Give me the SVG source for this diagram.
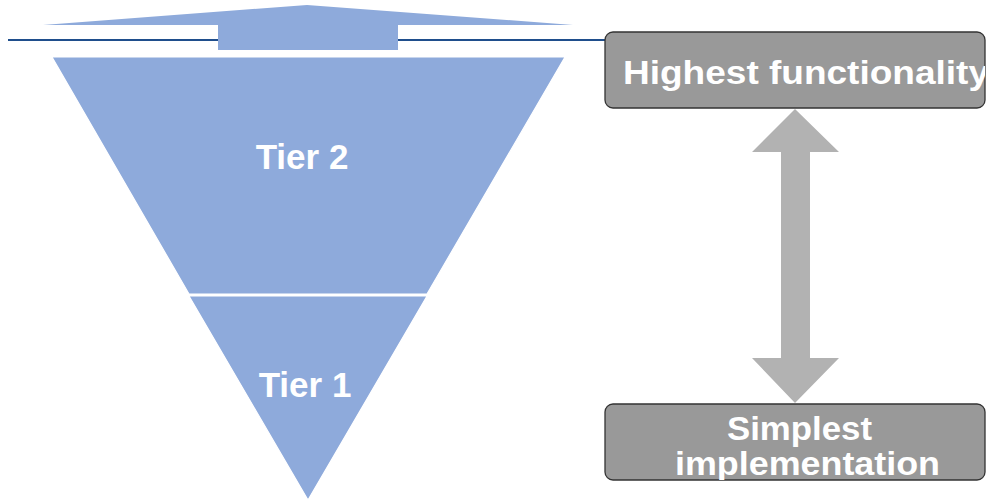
<svg xmlns="http://www.w3.org/2000/svg" width="986" height="503" viewBox="0 0 986 503">
<style>
.tier{fill:#8EAADB;stroke:#FFFFFF;stroke-width:1.2}
.tl{font-family:"Liberation Sans",Arial,sans-serif;font-weight:bold;fill:#FFFFFF;font-size:35px;text-anchor:middle}
.box{fill:#999999;stroke:#333333;stroke-width:1.3}
.bl{font-family:"Liberation Sans",Arial,sans-serif;font-weight:bold;fill:#FFFFFF;font-size:34px}
</style>
<defs>
<clipPath id="c1"><rect x="605" y="32" width="380" height="76" rx="8"/></clipPath>
<clipPath id="c2"><rect x="605" y="404" width="380" height="76" rx="8"/></clipPath>
</defs>
<rect width="986" height="503" fill="#FFFFFF"/>
<g id="baseline">
<line x1="8" y1="40" x2="606" y2="40" stroke="#1F4E8C" stroke-width="2"/>
</g>
<g id="top-arrow">
<polygon points="43,25 307,5 573,25 398,25 398,50 218,50 218,25" fill="#8EAADB"/>
</g>
<g id="tier2">
<polygon class="tier" points="52,57 565,57 427,294 189,294"/>
<text class="tl" x="302" y="169">Tier 2</text>
</g>
<g id="tier1">
<polygon class="tier" points="189,296 427,296 308,500"/>
<text class="tl" x="305" y="397">Tier 1</text>
</g>
<g id="highest">
<rect class="box" x="605" y="32" width="380" height="76" rx="8"/>
<text class="bl" x="623" y="84" textLength="366" lengthAdjust="spacingAndGlyphs" clip-path="url(#c1)">Highest functionality</text>
</g>
<g id="simplest">
<rect class="box" x="605" y="404" width="380" height="76" rx="8"/>
<g clip-path="url(#c2)">
<text class="bl" x="727" y="440" textLength="145" lengthAdjust="spacingAndGlyphs">Simplest</text>
<text class="bl" x="675" y="475" textLength="265" lengthAdjust="spacingAndGlyphs">implementation</text>
</g>
</g>
<g id="connectors">
<polygon points="795,109 839,152 810,152 810,358 839,358 795,403 752,358 781,358 781,152 752,152" fill="#B2B2B2"/>
</g>
</svg>
